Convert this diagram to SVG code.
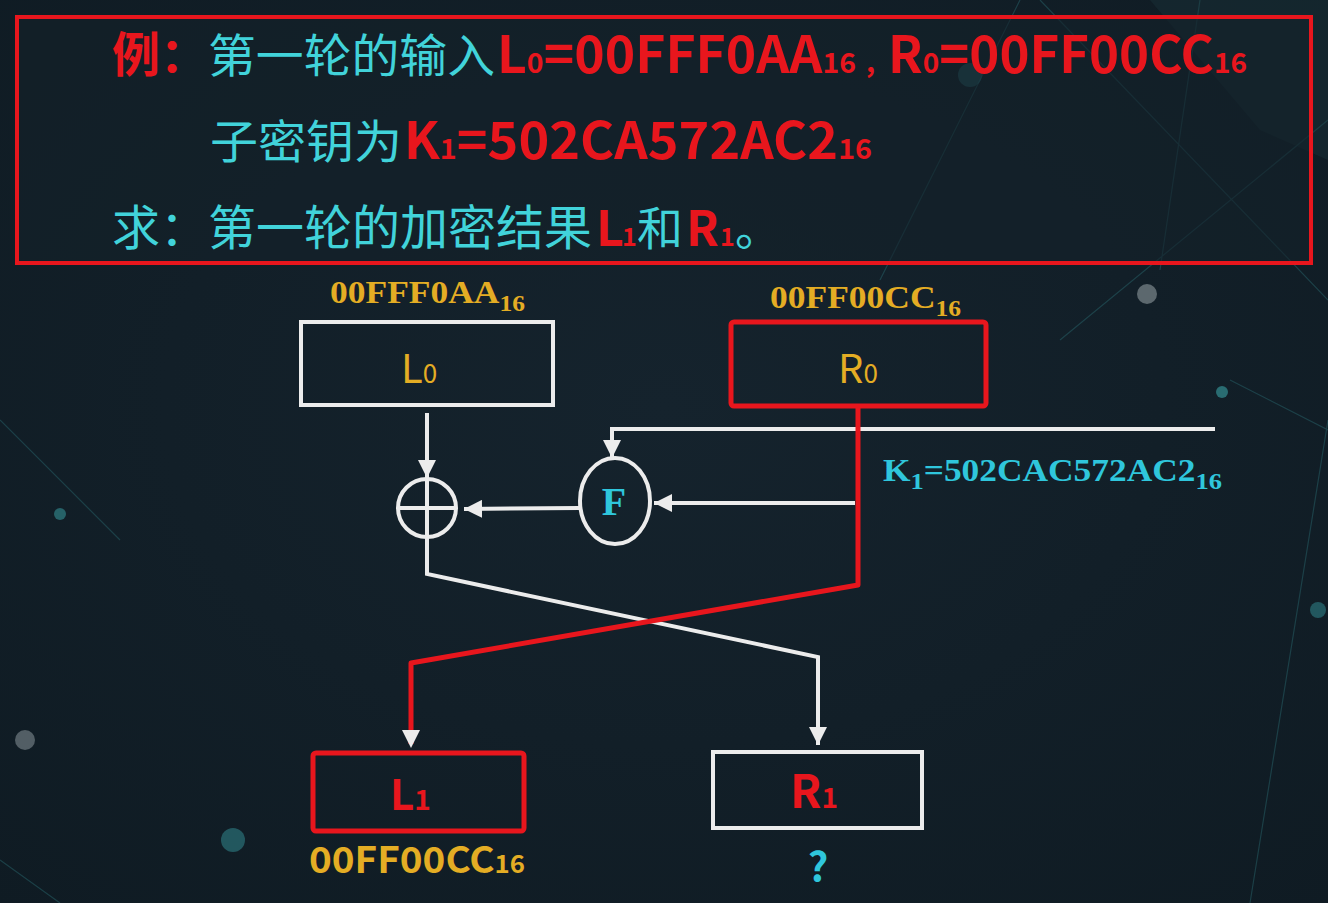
<svg xmlns="http://www.w3.org/2000/svg" width="1328" height="903" viewBox="0 0 1328 903">
<defs>
<radialGradient id="bg" cx="0.5" cy="0.45" r="0.75">
<stop offset="0" stop-color="#15232d"/>
<stop offset="1" stop-color="#0f1b23"/>
</radialGradient>
<marker id="ah" markerUnits="userSpaceOnUse" markerWidth="20" markerHeight="18" refX="18" refY="9" orient="auto">
<path d="M0,0 L18,9 L0,18 z" fill="#ececec"/>
</marker>
<style>
.zh{font-family:"Noto Sans CJK SC","Noto Sans",sans-serif;font-size:46px;fill:#41d3da}
.rd{font-family:"Noto Sans CJK SC","Noto Sans",sans-serif;font-weight:bold;fill:#e8161d}
.big{font-size:51px}
.sub{font-size:28px}
.ser{font-family:"Liberation Serif","DejaVu Serif",serif;font-weight:bold}
.yl{fill:#e4ad24}
.cy{fill:#2fc6dc}
.box{fill:none;stroke:#ececec;stroke-width:4}
.rbox{fill:none;stroke:#e8161d;stroke-width:5}
.w{fill:none;stroke:#ececec;stroke-width:4}
.r{fill:none;stroke:#e8161d;stroke-width:5;stroke-linejoin:round}
.deco{stroke:#2a6a70;stroke-width:1.2;fill:none;opacity:0.45}
</style>
</defs>
<rect width="1328" height="903" fill="url(#bg)"/>
<g id="background">
<path class="deco" d="M1040,0 L1328,300 M1060,340 L1328,120 M880,280 L1020,0 M1200,0 L1160,270 M1328,420 L1250,903 M0,420 L120,540 M0,860 L60,903 M1230,380 L1328,430"/>
<polygon points="1150,0 1328,0 1328,160 1260,130" fill="#1e3a40" opacity="0.35"/>
<circle cx="1147" cy="294" r="10" fill="#6f7b80" opacity="0.8"/>
<circle cx="1222" cy="392" r="6" fill="#2f7f85" opacity="0.8"/>
<circle cx="60" cy="514" r="6" fill="#2f7f85" opacity="0.7"/>
<circle cx="25" cy="740" r="10" fill="#6f7b80" opacity="0.7"/>
<circle cx="233" cy="840" r="12" fill="#2f7f85" opacity="0.6"/>
<circle cx="1318" cy="610" r="8" fill="#2f7f85" opacity="0.6"/>
<circle cx="970" cy="75" r="12" fill="#2f7f85" opacity="0.45"/>
</g>
<g id="problem">
<rect x="17" y="17" width="1294" height="246" fill="#142129" fill-opacity="0.6" stroke="#e8161d" stroke-width="4"/>
<text class="rd" x="112" y="72" font-size="48">例：</text>
<text class="zh" x="208" y="72" textLength="287" lengthAdjust="spacingAndGlyphs">第一轮的输入</text>
<text class="rd big" x="497" y="73" textLength="359" lengthAdjust="spacingAndGlyphs">L<tspan class="sub">0</tspan>=00FFF0AA<tspan class="sub">16</tspan></text>
<text class="rd sub" x="866" y="72">,</text>
<text class="rd big" x="888" y="73" textLength="359" lengthAdjust="spacingAndGlyphs">R<tspan class="sub">0</tspan>=00FF00CC<tspan class="sub">16</tspan></text>
<text class="zh" x="210" y="158" textLength="192" lengthAdjust="spacingAndGlyphs">子密钥为</text>
<text class="rd big" x="404" y="159" textLength="468" lengthAdjust="spacingAndGlyphs">K<tspan class="sub">1</tspan>=502CA572AC2<tspan class="sub">16</tspan></text>
<text font-family="Noto Sans CJK SC,Noto Sans,sans-serif" y="245"><tspan x="112" font-size="48" fill="#41d3da">求：第一轮的加密结果</tspan><tspan x="596" y="246" class="rd" font-size="48">L</tspan><tspan x="622" y="246" class="rd" font-size="25">1</tspan><tspan x="637" y="245" font-size="46" fill="#41d3da">和</tspan><tspan x="686" y="246" class="rd" font-size="48">R</tspan><tspan x="720" y="246" class="rd" font-size="25">1</tspan><tspan x="735" y="245" font-size="46" fill="#41d3da">。</tspan></text>
</g>
<g id="connectors">
<line class="w" x1="427" y1="413" x2="427" y2="478" marker-end="url(#ah)"/>
<path class="w" d="M427,537 L427,574 L818,657 L818,745" marker-end="url(#ah)"/>
<line class="w" x1="580" y1="508" x2="464" y2="509" marker-end="url(#ah)"/>
<line class="w" x1="855" y1="503" x2="654" y2="503" marker-end="url(#ah)"/>
<path class="w" d="M1215,429 L612,429 L612,458" marker-end="url(#ah)"/>
<path class="r" d="M858,406 L858,585 L411,663 L411,744"/>
<path d="M402,730 L411,748 L420,730 z" fill="#ececec"/>
</g>
<g id="L0">
<rect class="box" x="301" y="322" width="252" height="83"/>
<text class="yl" x="401" y="383" font-family="Noto Sans CJK SC,Noto Sans,sans-serif" font-size="40">L<tspan font-size="26">0</tspan></text>
<text class="ser yl" x="330" y="303" font-size="32" textLength="195" lengthAdjust="spacingAndGlyphs">00FFF0AA<tspan font-size="23" dy="8">16</tspan></text>
</g>
<g id="R0">
<rect class="rbox" x="731" y="322" width="255" height="84" rx="3"/>
<text class="yl" x="838" y="383" font-family="Noto Sans CJK SC,Noto Sans,sans-serif" font-size="40">R<tspan font-size="26">0</tspan></text>
<text class="ser yl" x="770" y="308" font-size="32" textLength="191" lengthAdjust="spacingAndGlyphs">00FF00CC<tspan font-size="23" dy="8">16</tspan></text>
</g>
<g id="xor">
<circle cx="427" cy="508" r="29" fill="none" stroke="#ececec" stroke-width="4"/>
<line class="w" x1="398" y1="508" x2="456" y2="508"/>
<line class="w" x1="427" y1="479" x2="427" y2="537"/>
</g>
<g id="F">
<ellipse cx="615" cy="501" rx="35" ry="43" fill="none" stroke="#ececec" stroke-width="4"/>
<text class="ser cy" x="614" y="515" font-size="40" text-anchor="middle">F</text>
</g>
<g id="K1">
<text class="ser cy" x="883" y="481" font-size="32" textLength="339" lengthAdjust="spacingAndGlyphs">K<tspan font-size="24" dy="8">1</tspan><tspan dy="-8">=502CAC572AC2</tspan><tspan font-size="24" dy="8">16</tspan></text>
</g>
<g id="L1">
<rect class="rbox" x="313" y="753" width="211" height="78" rx="3"/>
<text class="rd" x="390" y="810" font-size="42">L<tspan font-size="28">1</tspan></text>
<text x="309" y="873" font-family="Noto Sans CJK SC,Noto Sans,sans-serif" font-weight="bold" font-size="36" fill="#e4ad24" textLength="216" lengthAdjust="spacingAndGlyphs">00FF00CC<tspan font-size="24">16</tspan></text>
</g>
<g id="R1">
<rect class="box" x="713" y="752" width="209" height="76"/>
<text class="rd" x="790" y="808" font-size="46">R<tspan font-size="28">1</tspan></text>
<text x="818" y="881" font-family="Noto Sans CJK SC,Noto Sans,sans-serif" font-weight="bold" font-size="40" fill="#2fc6dc" text-anchor="middle">?</text>
</g>
</svg>
